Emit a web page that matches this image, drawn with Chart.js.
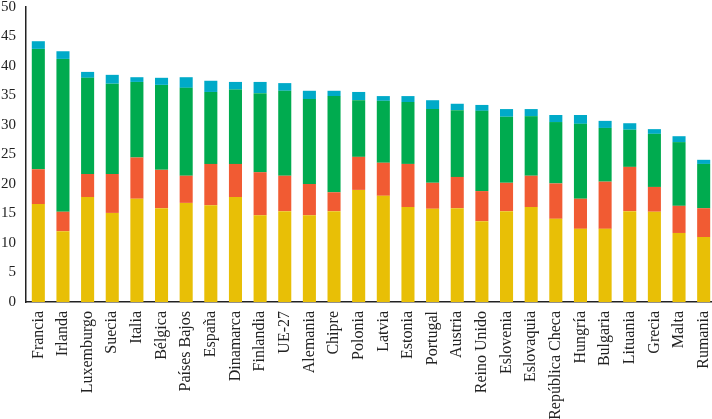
<!DOCTYPE html>
<html>
<head>
<meta charset="utf-8">
<script src="https://cdn.jsdelivr.net/npm/chart.js@4.4.0/dist/chart.umd.min.js"></script>
<style>
html,body{margin:0;padding:0;background:#fff;overflow:hidden;}
#wrap{width:716px;height:419px;position:relative;}
</style>
</head>
<body>
<div id="wrap"><canvas id="c"></canvas></div>
<script>
const categories = ["Francia","Irlanda","Luxemburgo","Suecia","Italia","Bélgica","Países Bajos","España","Dinamarca","Finlandia","UE-27","Alemania","Chipre","Polonia","Latvia","Estonia","Portugal","Austria","Reino Unido","Eslovenia","Eslovaquia","República Checa","Hungría","Bulgaria","Lituania","Grecia","Malta","Rumania"];
const serieAmarilla = [16.6,12.0,17.8,15.1,17.5,15.9,16.8,16.4,17.8,14.7,15.4,14.7,15.4,19.0,18.0,16.1,15.8,15.9,13.7,15.4,16.1,14.1,12.4,12.4,15.4,15.3,11.7,11.0];
const serieRoja    = [5.9,3.3,3.9,6.6,7.0,6.5,4.6,7.0,5.6,7.3,6.0,5.3,3.2,5.6,5.6,7.3,4.4,5.3,5.1,4.8,5.3,6.0,5.1,8.0,7.5,4.2,4.6,4.9];
const serieVerde   = [20.4,25.9,16.3,15.3,12.8,14.4,14.9,12.2,12.6,13.4,14.4,14.4,16.3,9.6,10.5,10.5,12.5,11.3,13.6,11.2,10.1,10.4,12.7,9.1,6.3,9.0,10.8,7.5];
const serieCian    = [1.3,1.3,1.0,1.5,0.8,1.2,1.8,1.9,1.3,1.9,1.3,1.4,0.9,1.4,0.8,1.0,1.5,1.1,1.0,1.3,1.2,1.2,1.5,1.2,1.1,0.8,1.0,0.7];
const yTicks = [0,5,10,15,20,25,30,35,40,45,50];

const FONT = "'Liberation Serif', 'DejaVu Serif', serif";
const mk = (label, data, color) => ({label, data, backgroundColor: color, borderWidth: 0, barPercentage: 0.53, categoryPercentage: 1.0});

new Chart(document.getElementById('c'), {
  type: 'bar',
  data: {
    labels: categories,
    datasets: [
      mk('s1', serieAmarilla, '#E8BF06'),
      mk('s2', serieRoja, '#F15B33'),
      mk('s3', serieVerde, '#00AB4F'),
      mk('s4', serieCian, '#00AAC8')
    ]
  },
  options: {
    responsive: true,
    maintainAspectRatio: false,
    animation: false,
    layout: {padding: {top: 7, right: 0, left: 0, bottom: 0}},
    plugins: {legend: {display: false}, tooltip: {enabled: false}},
    scales: {
      x: {
        stacked: true,
        grid: {display: false, drawTicks: false},
        border: {display: true, color: '#222', width: 1.5},
        ticks: {color: '#222', font: {family: FONT, size: 16}, minRotation: 90, maxRotation: 90, autoSkip: false, padding: 9},
        afterFit: s => { s.height = 117; s.paddingLeft = 0; s.paddingRight = 0; }
      },
      y: {
        stacked: true,
        min: 0, max: 50,
        afterBuildTicks: s => { s.ticks = yTicks.map(v => ({value: v})); },
        grid: {display: false, drawTicks: false},
        border: {display: true, color: '#222', width: 1.5},
        ticks: {color: '#222', font: {family: FONT, size: 15}, padding: 10},
        afterFit: s => { s.width = 26; s.paddingTop = 0; s.paddingBottom = 0; }
      }
    }
  }
});
</script>
</body>
</html>
